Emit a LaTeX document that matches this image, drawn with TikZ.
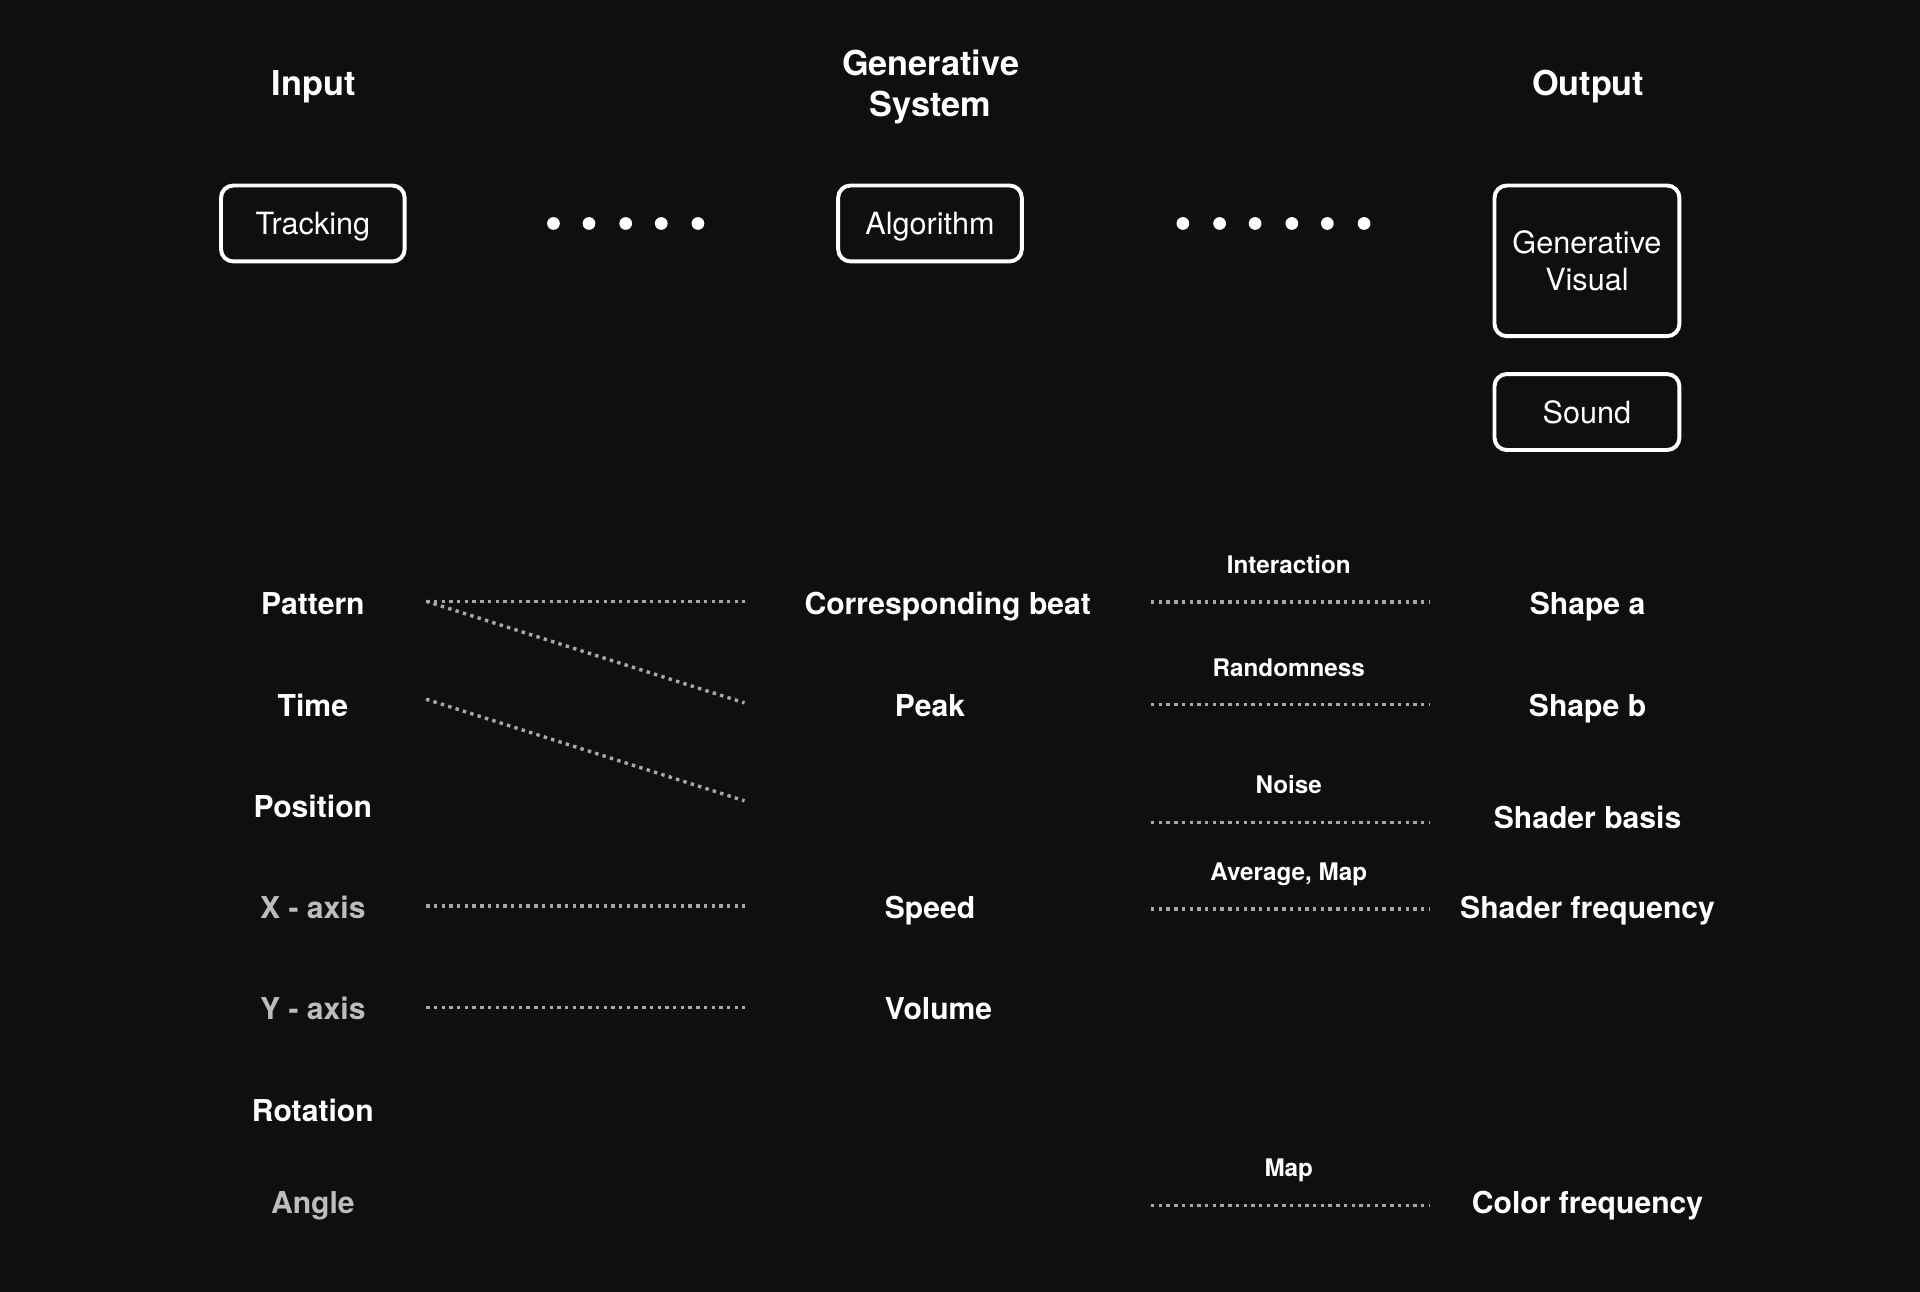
\documentclass[tikz,border=0pt]{standalone}
\usepackage{fontspec}
\setmainfont{TeX Gyre Heros}
\definecolor{bg}{HTML}{0F0F0F}
\definecolor{textgrey}{HTML}{BDBDBD}
\definecolor{linegrey}{HTML}{A8A8A8}
\begin{document}
\begin{tikzpicture}[x=0.5pt,y=-0.5pt,
  every node/.style={text=white, inner sep=0pt},
  title/.style={font=\bfseries\fontsize{14}{16.5}\selectfont, align=center},
  stitle/.style={title, text height=10pt, text depth=0pt},
  box/.style={draw=white, line width=1.6pt, rounded corners=5pt,
    font=\fontsize{12.5}{15}\selectfont, align=center,
    minimum width=75pt, minimum height=31pt},
  sbox/.style={box, text height=9pt, text depth=0pt},
  lab/.style={font=\bfseries\fontsize{12.3}{14}\selectfont, text height=8.8pt, text depth=0pt},
  dimlab/.style={lab, text=textgrey},
  small/.style={font=\bfseries\fontsize{9.9}{12}\selectfont, text height=7.1pt, text depth=0pt},
  link/.style={draw=linegrey, line width=1.4pt, dash pattern=on 1.4pt off 1.75pt},
  dot/.style={circle, fill=white, minimum size=5.2pt}
]
\fill[bg] (0,0) rectangle (1568,1055);
\useasboundingbox (0,0) rectangle (1568,1055);

% titles
\node[stitle] (tin) at (256,68) {Input};
\node[title] (tgen) at (760,71) {Generative\\System};
\node[stitle] (tout) at (1297,68) {Output};

% boxes
\node[sbox] (track) at (255.5,182.5) {Tracking};
\node[sbox] (algo) at (759.5,182.5) {Algorithm};
\node[box, minimum width=75.5pt, minimum height=61.5pt] (gvis) at (1296,213) {Generative\\Visual};
\node[sbox, minimum width=75.5pt] (sound) at (1296,336.5) {Sound};

% dots
\foreach \x [count=\i] in {452,481,511,540,570} \node[dot] (dl\i) at (\x,182.5) {};
\foreach \x [count=\i] in {966,996,1025,1055,1084,1114} \node[dot] (dr\i) at (\x,182.5) {};

% left labels
\node[lab] (pattern) at (255.5,493) {Pattern};
\node[lab] (time) at (255.5,576) {Time};
\node[lab] (position) at (255.5,659) {Position};
\node[dimlab] (xaxis) at (255.5,741) {X - axis};
\node[dimlab] (yaxis) at (255.5,824) {Y - axis};
\node[lab] (rotation) at (255.5,907) {Rotation};
\node[dimlab] (angle) at (255.5,982) {Angle};

% middle labels
\node[lab] (beat) at (774,493) {Corresponding beat};
\node[lab] (peak) at (759.5,576) {Peak};
\node[lab] (speed) at (759.5,741) {Speed};
\node[lab] (volume) at (766.5,824) {Volume};

% right labels
\node[lab] (shapea) at (1296.5,493) {Shape a};
\node[lab] (shapeb) at (1296.5,576) {Shape b};
\node[lab] (shbasis) at (1296.5,668) {Shader basis};
\node[lab] (shfreq) at (1296.5,741) {Shader frequency};
\node[lab] (colfreq) at (1296.5,982) {Color frequency};

% small labels
\node[small] (interaction) at (1052.5,461) {Interaction};
\node[small] (random) at (1052.5,545) {Randomness};
\node[small] (noise) at (1052.5,641) {Noise};
\node[small] (avgmap) at (1052.5,712) {Average, Map};
\node[small] (map) at (1052.5,954) {Map};

% line end points
\coordinate (pA) at (348,491);
\coordinate (pB) at (608,491);
\coordinate (pC) at (608,574);
\coordinate (tA) at (348,571);
\coordinate (tB) at (608,654);
\coordinate (xA) at (348,740);
\coordinate (xB) at (608,740);
\coordinate (yA) at (348,823);
\coordinate (yB) at (608,823);
\coordinate (r1A) at (940,491.5);  \coordinate (r1B) at (1167,491.5);
\coordinate (r2A) at (940,575.5);  \coordinate (r2B) at (1167,575.5);
\coordinate (r3A) at (940,671.5);  \coordinate (r3B) at (1167,671.5);
\coordinate (r4A) at (940,742.5);  \coordinate (r4B) at (1167,742.5);
\coordinate (r5A) at (940,984.5);  \coordinate (r5B) at (1167,984.5);

% dotted links
\draw[link] (pA) -- (pB);
\draw[link] (pA) -- (pC);
\draw[link] (tA) -- (tB);
\draw[link] (xA) -- (xB);
\draw[link] (yA) -- (yB);
\draw[link] (r1A) -- (r1B);
\draw[link] (r2A) -- (r2B);
\draw[link] (r3A) -- (r3B);
\draw[link] (r4A) -- (r4B);
\draw[link] (r5A) -- (r5B);
\end{tikzpicture}
\end{document}
